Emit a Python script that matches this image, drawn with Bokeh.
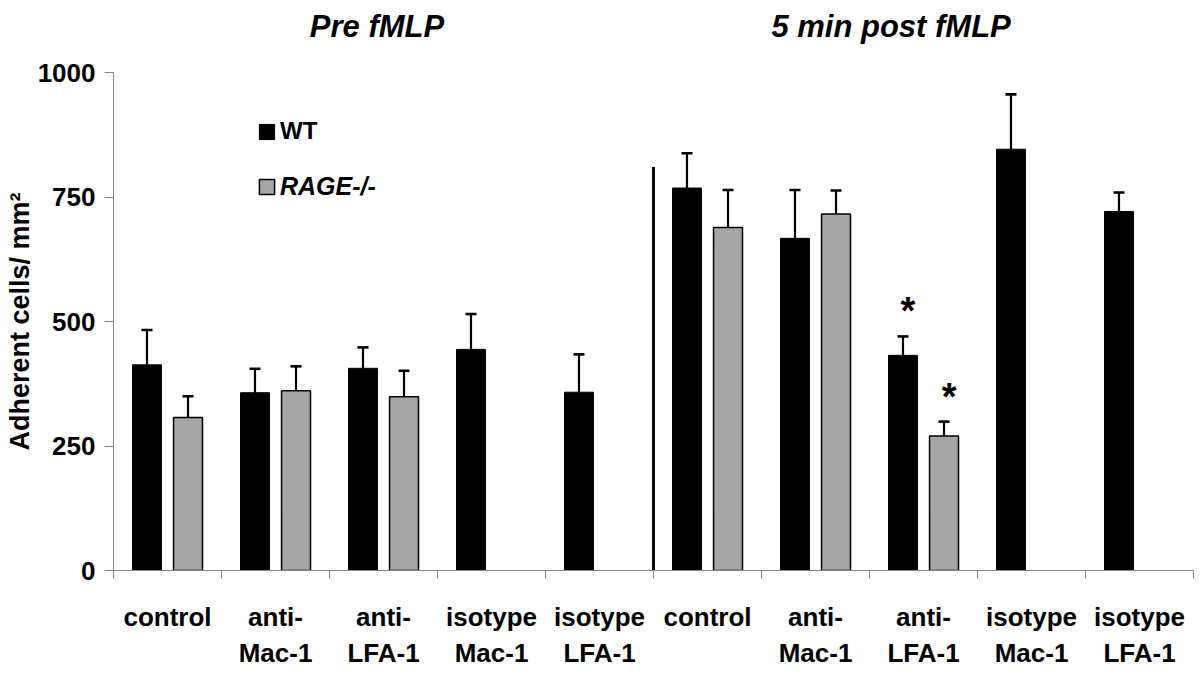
import math
from bokeh.plotting import figure
from bokeh.models import (ColumnDataSource, Range1d, FixedTicker, Whisker, TeeHead,
                          LinearAxis, Legend, LegendItem)
from bokeh.transform import dodge
from bokeh.core.properties import value
from bokeh.embed import file_html
from bokeh.resources import INLINE

# ---------------- data ----------------
categories = ["control", "anti-\nMac-1", "anti-\nLFA-1", "isotype\nMac-1", "isotype\nLFA-1",
              "control", "anti-\nMac-1", "anti-\nLFA-1", "isotype\nMac-1", "isotype\nLFA-1"]
group_titles = ["Pre fMLP", "5 min post fMLP"]
wt_mean = [413, 357, 406, 444, 358, 768, 667, 432, 846, 721]
wt_sem = [70, 48, 42, 71, 76, 70, 97, 38, 110, 38]
rage_mean = [307, 361, 349, None, None, 689, 716, 270, None, None]
rage_sem = [43, 49, 52, None, None, 75, 47, 29, None, None]
wt_sig = ["", "", "", "", "", "", "", "*", "", ""]
rage_sig = ["", "", "", "", "", "", "", "*", "", ""]
y_ticks = [0, 250, 500, 750, 1000]
divider_top = 810

# ---------------- sources ----------------
n = len(categories)
centers = [i + 0.5 for i in range(n)]
wt_src = ColumnDataSource(dict(
    x=centers, top=wt_mean, upper=[m + s for m, s in zip(wt_mean, wt_sem)], sig=wt_sig))
ri = [i for i in range(n) if rage_mean[i] is not None]
rage_src = ColumnDataSource(dict(
    x=[centers[i] for i in ri], top=[rage_mean[i] for i in ri],
    upper=[rage_mean[i] + rage_sem[i] for i in ri], sig=[rage_sig[i] for i in ri]))

FONT_NAME = "Liberation Sans"
FONT = value(FONT_NAME)
AXIS_GRAY = "#868686"
GRAY = "#a6a6a6"
OFF = 0.19
BW = 0.268
TITLE_POS = [2.44, 7.20]   # layout: where the group headings sit along x

p = figure(width=1200, height=684, x_range=Range1d(0, n), y_range=Range1d(0, y_ticks[-1]),
           output_backend="svg", toolbar_location=None,
           min_border_left=113, min_border_right=7, min_border_top=72, min_border_bottom=114)
p.outline_line_color = None
p.xgrid.grid_line_color = None
p.ygrid.grid_line_color = None
p.background_fill_color = "white"
p.border_fill_color = "white"
xa = p.below[0]
ya = p.left[0]

# bars
wt_bars = p.vbar(x=dodge("x", -OFF, range=p.x_range), top="top", width=BW, source=wt_src,
                 fill_color="black", line_color="black", line_width=1)
rage_bars = p.vbar(x=dodge("x", OFF, range=p.x_range), top="top", width=BW, source=rage_src,
                   fill_color=GRAY, line_color="black", line_width=1.5)

# error bars (upper only)
for src, off in ((wt_src, -OFF), (rage_src, OFF)):
    w = Whisker(base=dodge("x", off, range=p.x_range), lower="top", upper="upper", source=src,
                line_color="black", line_width=2.2, lower_head=None,
                upper_head=TeeHead(size=11, line_color="black", line_width=2.6))
    p.add_layout(w)

# significance stars
for src, off in ((wt_src, -OFF), (rage_src, OFF)):
    p.text(x=dodge("x", off, range=p.x_range), y="upper", text="sig", source=src,
           text_font=FONT, text_font_style="bold", text_font_size="38px",
           text_align="center", text_baseline="alphabetic", x_offset=5, y_offset=-25,
           text_color="black")

# divider between groups
half = n // 2
p.segment(x0=[half], y0=[0], x1=[half], y1=[divider_top], line_color="black", line_width=3)

# group headings as an axis above the plot
top_axis = LinearAxis(ticker=FixedTicker(ticks=TITLE_POS, minor_ticks=[]),
                      major_label_overrides={x: t for x, t in zip(TITLE_POS, group_titles)},
                      axis_line_color=None, major_tick_line_color=None,
                      minor_tick_line_color=None,
                      major_label_text_font=FONT_NAME, major_label_text_font_style="bold italic",
                      major_label_text_font_size="31px", major_label_text_color="black",
                      major_label_standoff=23)
p.add_layout(top_axis, "above")

# legends
common = dict(padding=0, margin=0, spacing=0, glyph_width=19, glyph_height=19,
              label_standoff=4, background_fill_alpha=0, border_line_color=None,
              label_text_font=FONT_NAME, label_text_color="black")
leg1 = Legend(items=[LegendItem(label="WT", renderers=[wt_bars])], location=(144, 425),
              label_text_font_style="bold", label_text_font_size="24px", **common)
leg2 = Legend(items=[LegendItem(label="RAGE-/-", renderers=[rage_bars])], location=(144, 369),
              label_text_font_style="bold italic", label_text_font_size="25px", **common)
p.add_layout(leg1)
p.add_layout(leg2)

# y axis
ya.ticker = FixedTicker(ticks=y_ticks)
ya.axis_line_color = AXIS_GRAY
ya.major_tick_line_color = AXIS_GRAY
ya.major_tick_out = 9
ya.major_tick_in = 0
ya.minor_tick_line_color = None
ya.major_label_text_font = FONT_NAME
ya.major_label_text_font_style = "bold"
ya.major_label_text_font_size = "26px"
ya.major_label_text_color = "black"
ya.major_label_standoff = 9
ya.axis_label = "Adherent cells/ mm²"
ya.axis_label_text_font = FONT_NAME
ya.axis_label_text_font_style = "bold"
ya.axis_label_text_font_size = "27px"
ya.axis_label_text_color = "black"
ya.axis_label_standoff = 0

# x axis
xa.ticker = FixedTicker(ticks=centers, minor_ticks=list(range(n + 1)))
xa.major_label_overrides = {c: lab for c, lab in zip(centers, categories)}
xa.axis_line_color = AXIS_GRAY
xa.major_tick_out = 0
xa.major_tick_in = 0
xa.minor_tick_line_color = AXIS_GRAY
xa.minor_tick_out = 8
xa.minor_tick_in = 0
xa.major_label_text_font = FONT_NAME
xa.major_label_text_font_style = "bold"
xa.major_label_text_font_size = "26px"
xa.major_label_text_color = "black"
xa.major_label_standoff = 23

open("out.html", "w").write(file_html(p, INLINE))
